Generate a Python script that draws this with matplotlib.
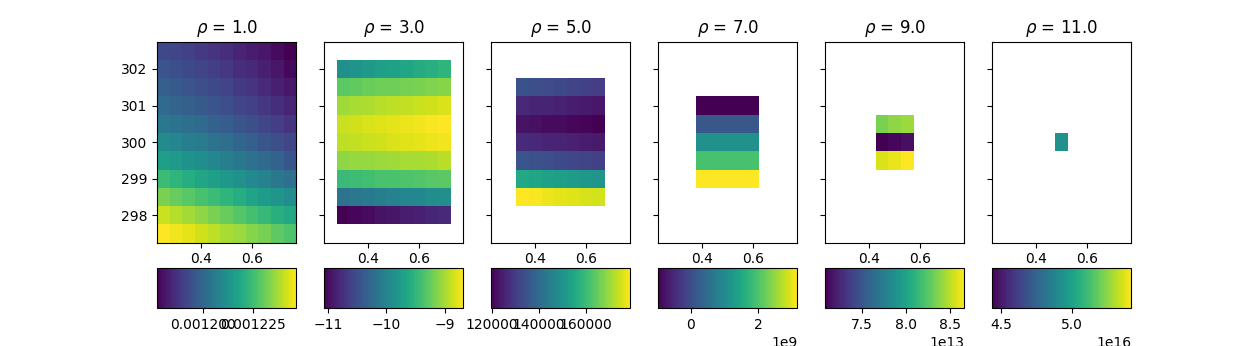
import matplotlib
matplotlib.use('Agg')
import matplotlib.pyplot as plt
import numpy as np
from mpl_toolkits.axes_grid1 import make_axes_locatable

# grid cell edges (rows listed from the top of the plot downwards)
x_edges = [0.225, 0.275, 0.325, 0.375, 0.425, 0.475, 0.525, 0.575, 0.625, 0.675, 0.725, 0.775]
y_edges = [302.75, 302.25, 301.75, 301.25, 300.75, 300.25, 299.75, 299.25, 298.75, 298.25, 297.75, 297.25]

rhos = [1.0, 3.0, 5.0, 7.0, 9.0, 11.0]

# rho = 1 field, in units of 1e-6
field_1 = [
    [1192.3, 1191.6, 1190.2, 1188.8, 1187.4, 1186.0, 1183.9, 1182.6, 1181.2, 1179.1, 1177.0],
    [1195.0, 1193.7, 1192.3, 1190.9, 1189.5, 1188.1, 1186.0, 1184.6, 1183.2, 1181.2, 1178.4],
    [1197.8, 1196.4, 1195.0, 1193.7, 1192.3, 1190.9, 1188.8, 1187.4, 1185.3, 1183.2, 1181.2],
    [1200.6, 1199.2, 1197.8, 1196.4, 1195.0, 1193.7, 1191.6, 1190.2, 1188.1, 1186.0, 1183.9],
    [1204.8, 1203.4, 1202.0, 1200.6, 1198.5, 1197.1, 1195.0, 1193.7, 1191.6, 1189.5, 1187.4],
    [1210.3, 1208.9, 1206.8, 1205.5, 1203.4, 1202.0, 1199.9, 1197.8, 1195.7, 1193.7, 1191.6],
    [1215.9, 1214.5, 1212.4, 1211.0, 1208.9, 1206.8, 1204.8, 1202.7, 1200.6, 1198.5, 1195.7],
    [1224.2, 1222.1, 1220.0, 1217.9, 1215.9, 1213.8, 1211.7, 1209.6, 1207.5, 1204.8, 1202.7],
    [1232.5, 1230.4, 1228.4, 1226.3, 1224.2, 1222.1, 1220.0, 1217.3, 1215.2, 1213.1, 1211.0],
    [1240.8, 1238.8, 1236.7, 1234.6, 1232.5, 1230.4, 1227.7, 1225.6, 1223.5, 1220.7, 1218.6],
    [1246.4, 1245.0, 1243.6, 1241.5, 1239.5, 1237.4, 1236.0, 1233.9, 1231.8, 1229.1, 1227.0],
]

field_3 = [
    [-9.88, -9.83, -9.78, -9.73, -9.71, -9.66, -9.61, -9.57, -9.52],
    [-9.28, -9.26, -9.23, -9.21, -9.21, -9.18, -9.16, -9.14, -9.11],
    [-9.02, -8.99, -8.97, -8.94, -8.92, -8.90, -8.87, -8.85, -8.82],
    [-8.87, -8.85, -8.82, -8.80, -8.78, -8.75, -8.73, -8.70, -8.68],
    [-8.92, -8.90, -8.87, -8.85, -8.82, -8.80, -8.78, -8.75, -8.73],
    [-9.09, -9.06, -9.06, -9.04, -9.02, -8.99, -8.99, -8.97, -8.94],
    [-9.45, -9.42, -9.40, -9.37, -9.37, -9.35, -9.33, -9.30, -9.28],
    [-10.16, -10.12, -10.09, -10.05, -10.02, -9.97, -9.95, -9.90, -9.88],
    [-11.07, -11.03, -11.00, -10.95, -10.93, -10.88, -10.86, -10.81, -10.79],
]

field_5 = [
    [134500, 133900, 133300, 132800, 131600, 131000, 130400],
    [126300, 125700, 125700, 125100, 124500, 123900, 123300],
    [122700, 122100, 121500, 121500, 120900, 120300, 119750],
    [126800, 126300, 125700, 125700, 125100, 124500, 123900],
    [135100, 134500, 133900, 132800, 132200, 131600, 131000],
    [155200, 154600, 153400, 152800, 152300, 151100, 150500],
    [178850, 178300, 177100, 176500, 175900, 175300, 174700],
]

# rho = 7 field, in units of 1e9
field_7 = [
    [-0.96, -0.96, -0.96, -0.96, -0.96],
    [0.15, 0.15, 0.15, 0.15, 0.15],
    [1.10, 1.10, 1.10, 1.10, 1.10],
    [1.95, 1.95, 1.95, 1.95, 1.95],
    [3.15, 3.15, 3.15, 3.15, 3.15],
]

# rho = 9 field, in units of 1e13
field_9 = [
    [8.34, 8.39, 8.42],
    [7.08, 7.11, 7.14],
    [8.57, 8.61, 8.66],
]

# rho = 11 field, in units of 1e16
field_11 = [[4.93]]

fields = [
    np.array(field_1) * 1e-6,
    np.array(field_3),
    np.array(field_5, dtype=float),
    np.array(field_7) * 1e9,
    np.array(field_9) * 1e13,
    np.array(field_11) * 1e16,
]

xe = np.array(x_edges)
ye = np.array(y_edges)
n = len(xe)

fig, axs = plt.subplots(1, 6, sharex=True, sharey=True, figsize=(12.57, 3.46))

for k, (ax, rho, data) in enumerate(zip(axs, rhos, fields)):
    # each larger rho loses one cell on every side
    pc = ax.pcolormesh(xe[k:n - k], ye[k:n - k], data, shading='flat', cmap='viridis')
    ax.set_title(r'$\rho$ = {}'.format(rho))
    divider = make_axes_locatable(ax)
    cax = divider.append_axes('bottom', size='20%', pad=0.25)
    fig.colorbar(pc, cax=cax, orientation='horizontal')

axs[0].set_xlim(0.225, 0.775)
axs[0].set_ylim(297.25, 302.75)

fig.savefig('out.png', dpi=100)
